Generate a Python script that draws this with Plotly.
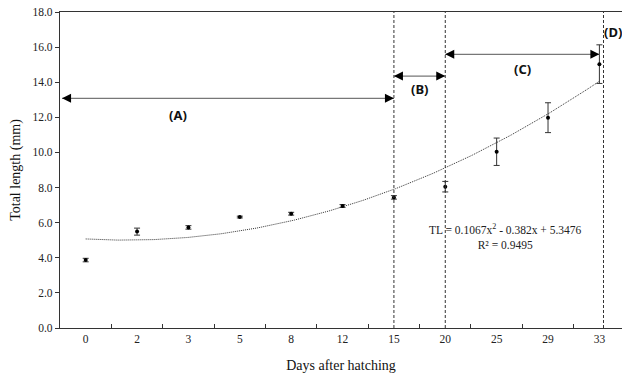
import plotly.graph_objects as go
import numpy as np

days = ["0", "2", "3", "5", "8", "12", "15", "20", "25", "29", "33"]
total_length = [3.87, 5.49, 5.73, 6.32, 6.51, 6.95, 7.44, 8.05, 10.04, 11.98, 15.03]
sd = [0.10, 0.20, 0.10, 0.05, 0.08, 0.08, 0.10, 0.30, 0.78, 0.85, 1.10]
trend_coef = [0.1067, -0.382, 5.3476]  # TL = a x^2 + b x + c, x = day rank (1..11)

phase_bounds = [6, 7, 10.08]  # dashed lines (category positions)
phase_arrows = [  # (start, end, y)
    (-0.46, 6.0, 13.08),
    (6.0, 7.0, 14.35),
    (7.0, 10.0, 15.59),
]
phase_labels = [("(A)", 1.8, 12.13), ("(B)", 6.49, 13.61), ("(C)", 8.5, 14.75), ("(D)", 10.27, 16.86)]

idx = list(range(len(days)))
serif = "Liberation Serif, Times New Roman, serif"

fig = go.Figure()

# trend line
t = np.linspace(0, len(days) - 1, 200)
xr = t + 1
tl = np.polyval(trend_coef, xr)
fig.add_trace(go.Scatter(x=t, y=tl, mode="lines",
                         line=dict(color="#333333", width=1, dash="1px,1px"),
                         hoverinfo="skip", showlegend=False))

fig.add_trace(go.Scatter(
    x=idx, y=total_length, mode="markers",
    marker=dict(color="black", size=4, symbol="circle"),
    error_y=dict(type="data", array=sd, visible=True, color="#333333", thickness=1, width=3),
    showlegend=False))

shapes = []
for b in phase_bounds:
    shapes.append(dict(type="line", xref="x", yref="y", x0=b, x1=b, y0=0, y1=18,
                       line=dict(color="#333333", width=1, dash="3px,2px")))
for (s, e, y) in phase_arrows:
    shapes.append(dict(type="line", xref="x", yref="y", x0=s, x1=e, y0=y, y1=y,
                       line=dict(color="#777777", width=1.2)))

annotations = []
for (s, e, y) in phase_arrows:
    annotations.append(dict(x=s, y=y, xref="x", yref="y", ax=10, ay=0, text="",
                            showarrow=True, arrowhead=2, arrowsize=1.5, arrowwidth=1.2,
                            arrowcolor="black"))
    annotations.append(dict(x=e, y=y, xref="x", yref="y", ax=-10, ay=0, text="",
                            showarrow=True, arrowhead=2, arrowsize=1.5, arrowwidth=1.2,
                            arrowcolor="black"))
for (txt, x, y) in phase_labels:
    annotations.append(dict(x=x, y=y, xref="x", yref="y", text="<b>" + txt + "</b>",
                            showarrow=False,
                            font=dict(family="Noto Sans, DejaVu Sans, sans-serif", size=13, color="#111111")))

annotations.append(dict(x=8.17, y=5.2, xref="x", yref="y",
                        text="TL = 0.1067x<sup>2</sup> - 0.382x + 5.3476<br>R² = 0.9495",
                        showarrow=False, align="center",
                        font=dict(family=serif, size=11.5, color="#222222")))

fig.update_layout(
    width=622, height=376,
    margin=dict(l=60, r=0, t=12, b=48),
    paper_bgcolor="white", plot_bgcolor="white",
    shapes=shapes, annotations=annotations,
    xaxis=dict(
        range=[-0.5, 10.44], tickvals=idx, ticktext=days, ticks="", showgrid=False,
        zeroline=False, showline=True, linecolor="#333333", linewidth=1.2, mirror=True,
        automargin=False,
        tickfont=dict(family=serif, size=11.5, color="#222222"),
        minor=dict(tickvals=[i + 0.5 for i in range(len(days) - 1)], ticks="inside",
                   ticklen=4, tickcolor="#333333", showgrid=False),
        title=dict(text="Days after hatching", font=dict(family=serif, size=14, color="#111111"), standoff=16),
    ),
    yaxis=dict(
        range=[0, 18], dtick=2, tickformat=".1f", ticks="outside", ticklen=4,
        tickcolor="#333333", showgrid=False, zeroline=False, showline=True,
        linecolor="#333333", linewidth=1.2, automargin=False,
        tickfont=dict(family=serif, size=11.5, color="#222222"),
        title=dict(text="Total length (mm)", font=dict(family=serif, size=14, color="#111111"), standoff=8),
    ),
)

fig.write_html("out.html", config={"displayModeBar": False},
               post_script="document.body.style.margin='0';document.body.style.overflow='hidden';")
